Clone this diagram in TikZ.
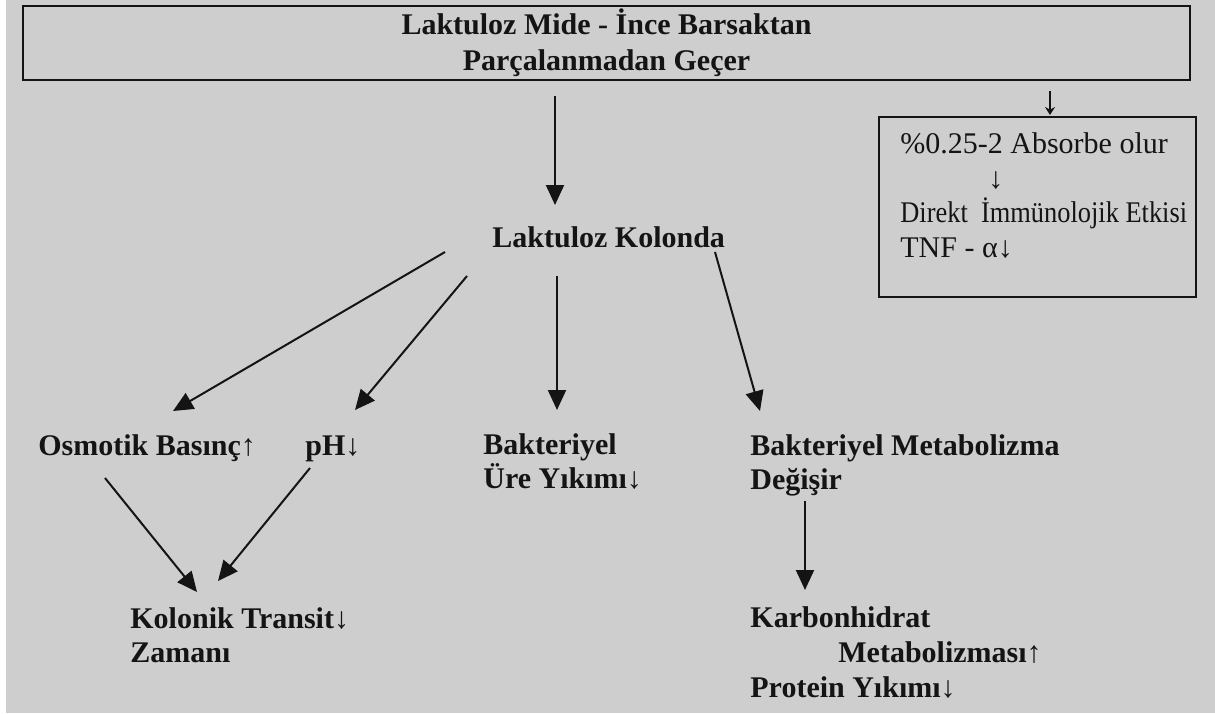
\documentclass[tikz,border=0pt]{standalone}
\usepackage{fontspec}
\usepackage{graphicx}
\setmainfont{Liberation Serif}
\usetikzlibrary{arrows.meta,positioning,calc}
\definecolor{bggray}{RGB}{206,206,206}
\definecolor{ink}{RGB}{20,20,20}
\tikzset{
lbl/.style = {font=\fontsize{15}{17}\selectfont\bfseries, inner sep=0pt, anchor=base west, align=left, text=ink},
absnote/.style = {font=\fontsize{15}{17.2}\selectfont, inner sep=0pt, anchor=base west, align=left, text=ink},
frame/.style = {draw=ink, line width=1pt, rectangle, inner sep=0pt, text=ink},
conn/.style = {draw=ink, line width=1pt, -{Triangle[length=10pt,width=9pt]}},
thinconn/.style = {draw=ink, line width=0.6pt, -{Stealth[length=4pt,width=5pt]}}
}
\begin{document}
\begin{tikzpicture}[x=0.5pt, y=-0.5pt]
  \useasboundingbox (0,0) rectangle (1215,713);
  \fill [white] (0,0) rectangle (1215,713);
  \fill [bggray] (6,0) rectangle (1215,713);

  % boxes (multi-line nodes sit on their last baseline)
  \node [frame, minimum width=583.5pt, minimum height=37pt, align=center,
         font=\fontsize{15}{18}\selectfont\bfseries] (mide) at (606.5,43)
        {Laktuloz Mide - İnce Barsaktan\\Parçalanmadan Geçer};
  \node [frame, minimum width=158.5pt, minimum height=90pt] (absbox) at (1037.5,207) {};
  \node [absnote] (abstxt) at (900,257)
        {\%0.25-2 Absorbe olur\\\hspace*{44pt}↓\\\scalebox{0.88}[1]{Direkt\ \ İmmünolojik Etkisi}\\TNF - α↓};

  % labels
  \node [lbl] (kolon)   at (492,247) {Laktuloz Kolonda};
  \node [lbl] (osm)     at (38,455)  {Osmotik Basınç↑};
  \node [lbl] (ph)      at (305,455) {pH↓};
  \node [lbl] (ure)     at (483,488) {Bakteriyel\\Üre Yıkımı↓};
  \node [lbl] (bakmet)  at (750,489) {Bakteriyel Metabolizma\\Değişir};
  \node [lbl] (transit) at (130,662) {Kolonik Transit↓\\Zamanı};
  \node [lbl, font=\fontsize{15}{17.5}\selectfont\bfseries] (karbon) at (750,697)
        {Karbonhidrat\\\hspace*{44pt}Metabolizması↑\\Protein Yıkımı↓};

  % connectors
  \draw [conn] ($(mide.south)+(-51.5,15)$) -- ($(kolon.base west)+(63,-42)$);
  \draw [thinconn] ($(mide.south)+(443.5,10)$) -- ($(absbox.north)+(12.5,-1)$);
  \draw [conn] ($(kolon.base west)+(-47,5)$) -- ($(osm.base west)+(135,-44)$);
  \draw [conn] ($(kolon.base west)+(-25,29)$) -- ($(ph.base west)+(50,-45)$);
  \draw [conn] ($(kolon.base west)+(65,29)$) -- ($(ure.base west)+(74,-78)$);
  \draw [conn] ($(kolon.base west)+(223,5)$) -- ($(bakmet.base west)+(10,-78)$);
  \draw [conn] ($(osm.base west)+(67,23)$) -- ($(transit.base west)+(67,-70)$);
  \draw [conn] ($(ph.base west)+(5,13)$) -- ($(transit.base west)+(88,-81)$);
  \draw [conn] ($(bakmet.base west)+(55,12)$) -- ($(karbon.base west)+(55,-107)$);
\end{tikzpicture}
\end{document}
